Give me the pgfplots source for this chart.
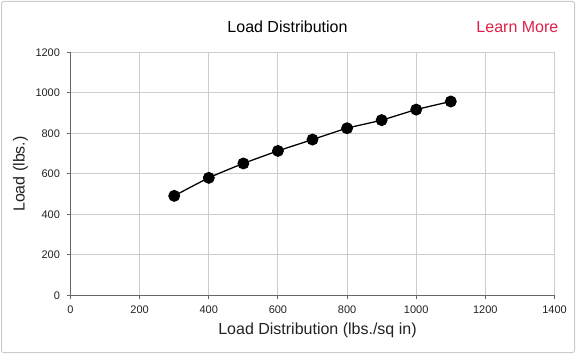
\documentclass[border=0pt]{standalone}
\usepackage{pgfplots}
\pgfplotsset{compat=1.18}
\usepackage{fontspec}
\setmainfont{Liberation Sans}
\definecolor{gridc}{HTML}{CCCCCC}
\definecolor{axisc}{HTML}{666666}
\definecolor{learn}{HTML}{DC2048}
\definecolor{txt}{HTML}{222222}
\begin{document}
\begin{tikzpicture}
\path[use as bounding box] (0bp,0bp) rectangle (576bp,354bp);
\draw[draw=gridc, line width=1bp, rounded corners=2bp] (1.5bp,1.5bp) rectangle (574.5bp,352.5bp);
\begin{axis}[at={(70.5bp,58.5bp)}, anchor=south west, scale only axis,
  width=484bp, height=243bp,
  xmin=0, xmax=1400, ymin=0, ymax=1200,
  xtick={0,200,...,1400}, ytick={0,200,...,1200},
  axis x line*=bottom, axis y line*=left,
  axis line style={draw=axisc, line width=1bp},
  grid=major, grid style={draw=gridc, line width=1bp},
  major tick length=4bp, tick align=outside,
  tick style={draw=axisc, line width=1bp},
  ticklabel style={font=\fontsize{11bp}{13bp}\selectfont, text=txt},
  yticklabel style={xshift=-3bp},
  xticklabel style={yshift=-2.5bp},
  /pgf/number format/assume math mode=true,
  /pgf/number format/1000 sep={},
  xlabel={Load Distribution (lbs./sq in)}, ylabel={Load (lbs.)},
  label style={font=\fontsize{16bp}{19bp}\selectfont, text=txt},
  xlabel style={at={(axis description cs:0.5,0)}, anchor=center, xshift=5bp, yshift=-34.5bp},
  ylabel style={at={(axis description cs:0,0.5)}, anchor=center, yshift=50bp},
  clip=false,
]
\addplot[black, line width=1.3bp, smooth, tension=0.4, mark=*, mark size=5.3bp, mark options={fill=black}]
  coordinates {(300,492) (400,581) (500,652) (600,714) (700,770) (800,826) (900,866) (1000,918) (1100,958)};
\end{axis}
\node[font=\fontsize{16bp}{19bp}\selectfont, text=black] at (287.5bp,327bp) {Load Distribution};
\node[font=\fontsize{16bp}{19bp}\selectfont, text=learn, anchor=east, inner sep=0pt] at (558.5bp,327bp) {Learn More};
\end{tikzpicture}
\end{document}
